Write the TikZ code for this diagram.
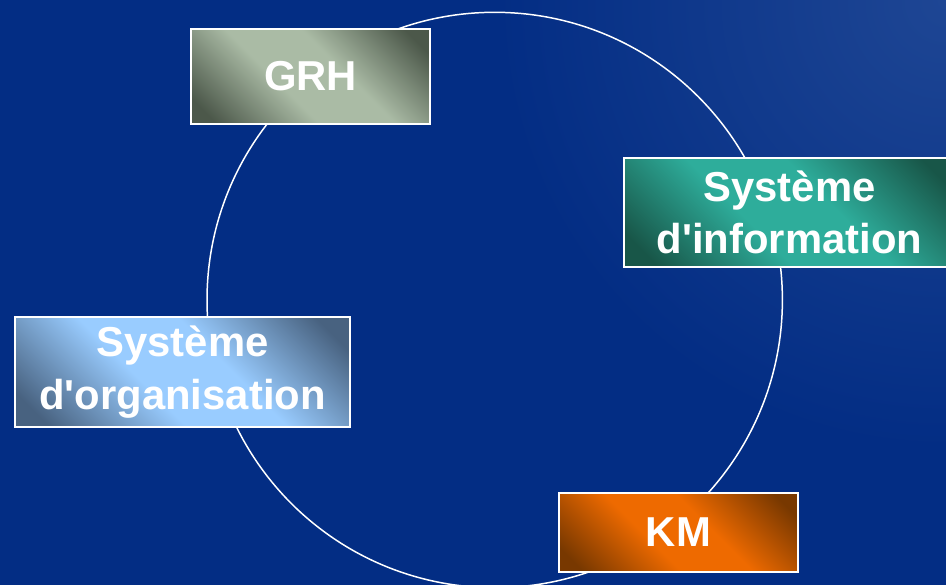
\documentclass[tikz,border=0pt]{standalone}
\usepackage{fontspec}
\setmainfont{Liberation Sans}
\newfontfamily\boxfont{Liberation Sans}
\definecolor{bgmain}{RGB}{3,45,132}
\definecolor{bgtop}{RGB}{30,70,148}
\definecolor{grhlight}{RGB}{170,187,165}
\definecolor{grhdark}{RGB}{76,88,74}
\definecolor{silight}{RGB}{46,173,155}
\definecolor{sidark}{RGB}{24,86,72}
\definecolor{solight}{RGB}{153,204,255}
\definecolor{sodark}{RGB}{72,98,128}
\definecolor{kmlight}{RGB}{238,106,0}
\definecolor{kmdark}{RGB}{120,56,0}
\newcommand\cornershade[3]{\pgfdeclarehorizontalshading{#1}{100bp}{color(0bp)=(#3); color(20bp)=(#3); color(42bp)=(#2); color(58bp)=(#2); color(80bp)=(#3); color(100bp)=(#3)}}
\cornershade{grhshade}{grhlight}{grhdark}
\cornershade{sishade}{silight}{sidark}
\cornershade{soshade}{solight}{sodark}
\cornershade{kmshade}{kmlight}{kmdark}
\tikzstyle{box}=[draw=white,line width=1.13pt,rectangle,inner sep=0pt,shade,shading angle=45,text=white,align=center,font=\boxfont\bfseries\fontsize{23.8}{30}\selectfont]
\tikzstyle{ring}=[white,line width=0.85pt]
\tikzstyle{pix}=[x=0.02cm,y=-0.02cm]

\begin{document}
\begin{tikzpicture}[pix]
  \useasboundingbox (0,0) rectangle (946,585);
  \clip (0,0) rectangle (946,585);
  % background
  \fill[bgmain] (0,0) rectangle (946,585);
  \shade[inner color=bgtop,outer color=bgmain] (946,0) circle (9cm);
  % the cycle
  \draw[ring] (494.7,300) circle (5.755cm);
  % the four poles
  \node[box,shading=grhshade,minimum width=4.78cm,minimum height=1.9cm] (grh) at (310.5,76.5) {GRH};
  \node[box,shading=sishade,minimum width=6.62cm,minimum height=2.18cm] (si) at (789.5,212.5) {Système\\d'information};
  \node[box,shading=soshade,minimum width=6.7cm,minimum height=2.2cm] (so) at (182.5,372) {Système\\d'organisation};
  \node[box,shading=kmshade,minimum width=4.78cm,minimum height=1.58cm] (km) at (678.5,532.5) {KM};
\end{tikzpicture}
\end{document}
